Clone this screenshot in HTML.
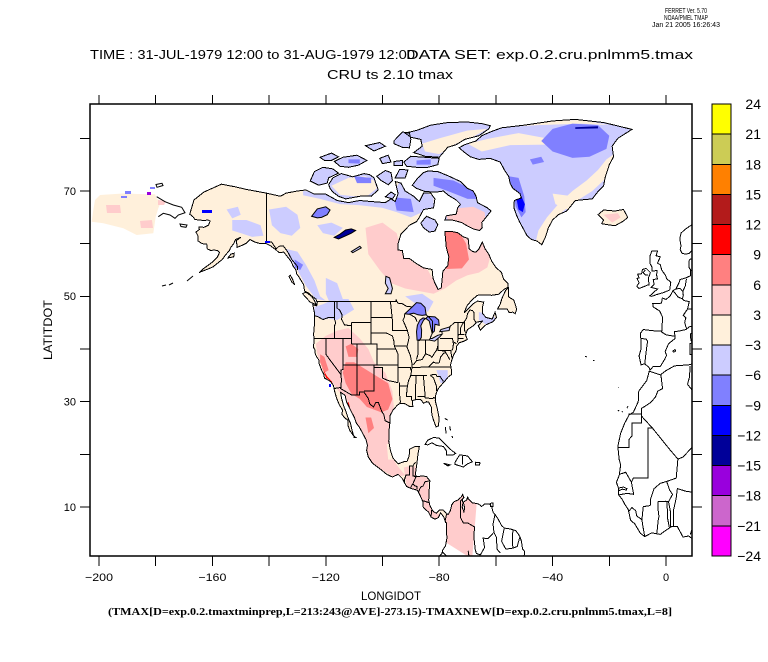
<!DOCTYPE html>
<html><head><meta charset="utf-8"><style>
html,body{margin:0;padding:0;background:#fff;}
svg{display:block;}
text{font-family:"Liberation Sans",sans-serif;fill:#000;}
</style></head><body>
<svg width="768" height="662" viewBox="0 0 768 662" xmlns="http://www.w3.org/2000/svg">
<rect x="0" y="0" width="768" height="662" fill="#fff"/>
<defs>
<clipPath id="fr"><rect x="91" y="105" width="601" height="451"/></clipPath>
<polygon id="main" vector-effect="non-scaling-stroke" points="-168,65.6 -166.5,68.3 -163,69.8 -156.8,71.3 -152,70.8 -148,70.3 -141,69.6 -136,69 -134,69.6 -130,70 -127,70.2 -124,69.4 -120,69.4 -116,68.2 -112,67.8 -108,68.2 -104,68 -99,67.8 -97,68.5 -95.5,68 -94.5,69.5 -95.5,71.8 -93.5,71.5 -92,70 -89,69 -87,68 -85.5,69.6 -83,69.6 -81.5,68.5 -82,66.8 -85.5,66.5 -87,65 -88,64.2 -90.5,63.5 -93.5,61.8 -94.5,60 -94.6,58.8 -93,58.7 -92.5,57.2 -90.5,57.2 -88,56.2 -85.5,55.4 -82.5,55.1 -82.2,53.5 -81.5,52.5 -80.4,51.3 -79.3,51.6 -79,53 -78.7,54.8 -77,55.8 -76.6,57.5 -77.5,59.3 -77.7,60.5 -78,62.3 -75.5,62.3 -73.5,62.1 -71.5,61.3 -69.8,61 -69.4,59 -68.2,58.5 -67,58.4 -66,59 -64.8,60.3 -63.8,59 -62.5,58 -61.5,56.7 -60,55.5 -58,54.5 -57.3,53.3 -55.8,52.5 -55.7,51.7 -57,51.4 -59,50.4 -61.5,50.2 -64.2,50.3 -66.5,50.2 -68.5,49.3 -70.2,48.2 -71.2,46.9 -70,47.5 -68,48.6 -66.5,49.1 -64.3,48.9 -64.8,47.8 -64.8,46.8 -63.5,46 -61.3,45.7 -60.3,47 -59.8,46 -61,45.2 -63.5,44.6 -65.5,43.6 -66.2,44.4 -64.8,45.3 -66.8,45.1 -68,44.4 -70,43.7 -70.7,42.7 -70.1,41.8 -71.2,41.5 -72.9,41.2 -73.8,40.6 -74,39.7 -74.9,38.9 -75.5,38 -76,37 -75.6,35.8 -75.6,35.2 -76.8,34.7 -78,33.9 -79.2,33.2 -80.3,32.5 -81.2,31.4 -81.4,30.2 -80.6,28.5 -80,26.8 -80.3,25.4 -81.1,25.2 -81.8,26.2 -82.6,27.5 -82.7,28.9 -83.7,29.9 -84.5,30 -85.5,29.7 -86.5,30.4 -88.2,30.4 -89.5,30.2 -89.3,29.1 -90.5,29.1 -92,29.6 -93.8,29.7 -94.8,29.3 -96.3,28.4 -97.3,27.4 -97.4,26 -97.7,24.5 -97.8,22.5 -97.2,20.7 -96.3,19.3 -95.2,18.6 -94.5,18.2 -92.5,18.6 -91.3,18.7 -90.6,19.7 -90.4,21 -88.5,21.5 -87,21.5 -87.5,20 -87.8,18.5 -88.2,17 -88.5,15.9 -87.5,15.8 -86,15.9 -84.5,15.8 -83.3,15 -83.5,13.5 -83.7,11.3 -83.3,10.3 -82.2,9.2 -81,8.8 -79.9,9.4 -78.5,9.4 -77.4,8.7 -77.9,7.3 -78.4,8.1 -79.5,8.9 -80.3,8 -81.5,7.7 -82.9,8.1 -83.7,9 -85.6,9.9 -85.8,11.1 -87,12.5 -87.7,13.2 -89.8,13.5 -91.5,13.9 -93,15.4 -94.5,16.2 -96.5,15.7 -98.5,16.2 -101,17.3 -103.5,18.3 -105,19.5 -105.6,20.8 -105.3,21.7 -105.8,22.8 -106.8,23.8 -108.2,25.2 -109.3,26 -109.9,27 -110.8,27.9 -111.8,29 -112.7,30 -113.2,31.2 -114.8,31.8 -114.5,30.8 -113.7,29.2 -112.8,28 -112.2,27 -111.3,25.9 -110.7,24.5 -110,23.2 -109.4,23.2 -110.3,23.6 -111.5,24.5 -112.2,25.5 -112.2,26.5 -113.3,26.9 -114.3,27.6 -114.1,28.4 -115.3,29.5 -116.2,30.7 -116.8,31.8 -117.1,32.5 -117.3,33.1 -118.3,33.8 -118.8,34 -120.5,34.5 -120.7,35.2 -121.5,36 -121.9,36.6 -122.4,37.3 -122.5,38 -123,38.3 -123.7,39 -123.8,39.8 -124.4,40.4 -124.1,41.5 -124.3,42.8 -124.1,44 -123.9,46 -124,46.9 -124.6,48.4 -123.2,48.2 -123,48.8 -123.5,49.5 -124.8,50 -126,50.6 -127.5,51 -127.8,52.2 -128.5,52.8 -129.5,53.7 -130.3,54.3 -130.5,55 -131.5,55.7 -132.2,56.6 -133.5,57.5 -134.8,58.4 -136.5,58.3 -137.5,58.8 -139.5,59.6 -141,60 -143,60 -145,60.3 -146.8,60.8 -148,60.1 -149.5,59.7 -151.3,59.3 -151.5,60.6 -150,61.2 -151.8,60.8 -152.5,60 -153.5,59.3 -154,58.7 -155.3,57.9 -156.5,57 -158.4,56.2 -159.8,55.6 -161.5,55.2 -163,54.9 -164.7,54.5 -163.3,55.2 -161.5,55.9 -159.8,56.6 -158.3,57.4 -157.5,58.3 -158.2,58.7 -159.5,58.8 -160.5,58.7 -161.8,59 -162,59.9 -163.6,60 -165,60.5 -165,61.4 -165.8,62.2 -164.6,62.7 -164.8,63.2 -163,63.1 -161.4,63.5 -160.8,64.3 -161.6,64.5 -163,64.4 -164.9,64.5 -166.2,64.6 -166.8,65.1"/>
<polygon id="vanc" vector-effect="non-scaling-stroke" points="-123.4,48.4 -125.5,48.9 -128.2,50.5 -127,50.8 -125,50 -124,49.2"/>
<polygon id="qch" vector-effect="non-scaling-stroke" points="-132.5,54 -131.7,53.2 -131,52.2 -132,52.7 -133,53.8"/>
<polygon id="kod" vector-effect="non-scaling-stroke" points="-154.5,57.3 -152.5,57.5 -152.3,58.2 -153.5,58"/>
<polygon id="newf" vector-effect="non-scaling-stroke" points="-59.4,47.6 -58.5,48.5 -57.8,49.7 -56.5,51.2 -55.5,51.6 -55.5,49.9 -53.7,49.3 -53,48.2 -52.7,47.5 -53.2,46.7 -54,47 -55.3,46.9 -56,47.6 -57.5,47.6"/>
<polygon id="ice" vector-effect="non-scaling-stroke" points="-24,65.5 -22,66.4 -18,66.2 -15,66.5 -13.5,65 -15,64.3 -18,63.4 -20.5,63.6 -22.7,63.8 -22,64.5"/>
<polygon id="grn" vector-effect="non-scaling-stroke" points="-73,78.2 -71,78.8 -67,79.5 -65,80.5 -62,81.2 -58,82 -50,82.5 -40,83.3 -32,83.6 -22,83 -12,81.7 -17,80 -19,78.5 -18.5,76.5 -20,75 -21.5,72.5 -22,71 -24,69.9 -26,68.5 -32,68.2 -35,66.2 -38,65.5 -40,64.5 -41.5,63 -42.5,61.3 -43.8,59.8 -45.5,60.5 -47.5,60.8 -49,61.5 -50.5,63 -51.7,64.2 -52.8,65.5 -53.7,66.9 -53.5,68.2 -51,68.7 -51.5,69.5 -54,70.5 -55,71.5 -55.5,72.8 -57,74 -58.5,75.5 -62,76.2 -66,76 -69,76.5 -71,77.3"/>
<polygon id="banks" vector-effect="non-scaling-stroke" points="-125.5,71.9 -124,73.7 -121,74.5 -117.5,74.2 -115.5,73.4 -119,72.5 -119.5,71.5 -122.5,71.1"/>
<polygon id="vict" vector-effect="non-scaling-stroke" points="-119,71.2 -117.5,72.5 -114.5,73.3 -110.5,72.7 -106.5,73.3 -104.5,73.1 -103,72.5 -101.5,70.2 -104,69 -107,69.1 -110,68.8 -113,68.5 -115.5,69 -117.5,69.8 -118.5,70.5"/>
<polygon id="melv" vector-effect="non-scaling-stroke" points="-117,75.6 -114,76.4 -109,76.8 -105.5,75.8 -108.5,74.9 -112,74.5 -115,74.7"/>
<polygon id="ppat" vector-effect="non-scaling-stroke" points="-122,76.4 -118,77.2 -115.5,76.5 -118,75.8 -120.5,75.8"/>
<polygon id="bath" vector-effect="non-scaling-stroke" points="-101,76.2 -98,76.8 -97,75.5 -100,75.2"/>
<polygon id="corn" vector-effect="non-scaling-stroke" points="-96,75.6 -93,75.8 -93,74.8 -96,74.8"/>
<polygon id="pwal" vector-effect="non-scaling-stroke" points="-102,72.8 -99,73.9 -97,73.5 -96.5,72 -98,71.2 -100.5,72"/>
<polygon id="some" vector-effect="non-scaling-stroke" points="-95.5,72.5 -94,74.1 -91,74 -92,72.5"/>
<polygon id="kingw" vector-effect="non-scaling-stroke" points="-99,68.9 -97,69.8 -95.5,69.3 -96.5,68.5"/>
<polygon id="devon" vector-effect="non-scaling-stroke" points="-92.5,75.5 -90,76.6 -85,76.4 -80,76.2 -80.5,75 -84,74.5 -88,74.5 -91.5,74.7"/>
<polygon id="elle" vector-effect="non-scaling-stroke" points="-80,76.4 -77,78.3 -74,78.8 -71,79.8 -66,80.5 -62.5,81.8 -62,82.4 -65,82.8 -70,83.1 -77,83 -83,82.5 -88,81.5 -92,81 -90,80.2 -86.5,79.8 -86,78.5 -89,77.3 -85,76.6"/>
<polygon id="axel" vector-effect="non-scaling-stroke" points="-96,79.5 -93,81.2 -90.5,81 -90,79.8 -90.5,78.2 -93,78.3 -96,79"/>
<polygon id="ring" vector-effect="non-scaling-stroke" points="-106,78.6 -101,79.2 -99,78.5 -103,77.6"/>
<polygon id="baff" vector-effect="non-scaling-stroke" points="-80.5,73.7 -76.5,72.8 -72.5,71.8 -70,70.5 -68,70 -67,69 -66.5,67.8 -63,66.8 -61.7,66.2 -63.5,65 -65,64 -64.8,63 -65.8,62.5 -68,62.8 -70.5,63.5 -72,64 -74,64.3 -75.5,64.5 -78,64.5 -77.5,65.3 -74,65.6 -73.5,66.8 -72.5,67.5 -74,68.3 -76.8,69.2 -78.5,70 -81,69.8 -85,69.9 -88,70.5 -89.5,71.1 -87.5,72.5 -85.5,73.5 -84,73.8"/>
<polygon id="south" vector-effect="non-scaling-stroke" points="-86.5,63.9 -84.5,65.2 -81.5,64.5 -80.5,63.6 -81.5,62.4 -83.5,62.2 -85.5,63"/>
<polygon id="safill" points="-77.4,8.7 -76.8,8.6 -76,9.4 -75.6,10.4 -74.8,11 -73.5,11.3 -72.2,11.9 -71.7,12.4 -71.3,11.8 -71.9,11.5 -71.6,10.8 -71.9,10 -71.3,9.1 -71,9.8 -71.5,10.9 -70.2,11.4 -70,12 -69.7,11.5 -68.3,10.8 -66.8,10.6 -68.3,0.6 -69.8,0.6 -77.4,3.2 -77.3,4 -77.4,5.7 -77.5,7 -77.9,7.3"/>
</defs>

<!-- title block -->
<text x="686" y="13" font-size="7" text-anchor="middle" textLength="42" lengthAdjust="spacingAndGlyphs">FERRET Ver. 5.70</text>
<text x="686" y="20" font-size="7" text-anchor="middle" textLength="44" lengthAdjust="spacingAndGlyphs">NOAA/PMEL TMAP</text>
<text x="686" y="27" font-size="7" text-anchor="middle" textLength="68" lengthAdjust="spacingAndGlyphs">Jan 21 2005 16:26:43</text>
<text x="90" y="59" font-size="13" textLength="325" lengthAdjust="spacingAndGlyphs">TIME : 31-JUL-1979 12:00 to 31-AUG-1979 12:00</text>
<text x="406" y="59" font-size="13" textLength="287" lengthAdjust="spacingAndGlyphs">DATA SET: exp.0.2.cru.pnlmm5.tmax</text>
<text x="390" y="79" font-size="13" text-anchor="middle" textLength="126" lengthAdjust="spacingAndGlyphs">CRU ts 2.10 tmax</text>

<g clip-path="url(#fr)">
 <!-- Chukotka (pixel space) -->
 <polygon points="100,195 126.7,193.3 136.7,194 155,194.3 156.7,198.3 161,201.7 158.3,208.3 155.7,216.7 153.3,233.3 136.7,235 123.3,228.3 103.3,223.3 91.7,221.7 93.3,210 95,200" fill="#FFF0DB"/>
 <polygon points="106,205 120,205 121,213 107,213" fill="#FFCCCC"/>
 <polygon points="140,221 152,220 153,228 141,228" fill="#FFCCCC"/>
 <polygon points="158,200 166,201 164,205 158,205" fill="#FFCCCC"/>
 <rect x="125" y="191" width="6" height="3" fill="#8080FF"/>
 <rect x="121" y="196" width="6" height="2" fill="#8080FF"/>
 <rect x="147" y="192" width="4" height="3" fill="#9900DD"/>
 <rect x="150" y="187" width="5" height="2" fill="#8080FF"/>
 <g fill="none" stroke="#000" stroke-width="1">
  <polyline points="156.7,196.7 165,201.7 173.3,205 181.7,207.3 185,212.7 178.3,215 175,218.3 170,215 163.3,213.3 158.3,216.7"/>
  <polygon points="180,224 187,225 186,227.3 181,226.5"/>
  <polygon points="156,184.5 162,183.3 163,185.5 157,187.3"/>
  <polyline points="187,281 193,276"/>
  <polyline points="162,286 166,285"/>
  <polyline points="169,285 173,283"/>
 </g>

 <g transform="matrix(2.835,0,0,-5.267,666,559.7)">
  <clipPath id="landclip">
   <use href="#main"/><use href="#vanc"/><use href="#qch"/><use href="#kod"/><use href="#newf"/><use href="#ice"/><use href="#grn"/>
   <use href="#banks"/><use href="#vict"/><use href="#melv"/><use href="#ppat"/><use href="#bath"/><use href="#corn"/><use href="#pwal"/><use href="#some"/><use href="#kingw"/><use href="#devon"/><use href="#elle"/><use href="#axel"/><use href="#ring"/><use href="#baff"/><use href="#south"/>
  </clipPath>
  <g fill="#FFF0DB">
   <use href="#main"/><use href="#vanc"/><use href="#qch"/><use href="#kod"/><use href="#newf"/><use href="#ice"/>
  </g>
  <g fill="#CCCCFF">
   <use href="#grn"/><use href="#banks"/><use href="#vict"/><use href="#melv"/><use href="#ppat"/><use href="#bath"/><use href="#corn"/><use href="#pwal"/><use href="#some"/><use href="#kingw"/><use href="#devon"/><use href="#elle"/><use href="#axel"/><use href="#ring"/><use href="#baff"/><use href="#south"/>
  </g>
  <use href="#safill" fill="#FFCCCC"/>
  <g clip-path="url(#landclip)">
   <g fill="#CCCCFF">
    <polygon points="-155,66.5 -151,67 -150,65.5 -153,64.8"/>
    <polygon points="-153,64.5 -148,64.5 -143,63.5 -142,61.5 -146,61.3 -150,62 -153,62.5"/>
    <polygon points="-140,66.5 -134,67 -130,65.5 -129,63 -132,61.5 -136,62 -139,63.5"/>
    <polygon points="-134,59 -130,58.5 -127,56 -124,53 -122,50 -120,49.2 -123.5,49.5 -127,52 -130,55 -133,57.5"/>
    <polygon points="-120,53.5 -116,52.5 -114,49.5 -113,47 -116,46 -118,48 -120,50.5"/>
    <polygon points="-124,48 -121,48.5 -117,49.5 -112,49.5 -110,47.5 -113,46.5 -116,45.5 -119,45.8 -121,45.5 -124,46.5"/>
    <polygon points="-128,70 -120,69.6 -114,68.3 -108,68.5 -100,68.2 -96,69.5 -94,71.8 -92,70 -88,68.5 -85,69.8 -82,69 -82,66.5 -86,66 -90,65 -95,66 -100,66.8 -108,67.3 -115,67.5 -122,68.5 -128,69.2"/>
    <polygon points="-123,63.5 -118,64 -114,63 -117,61.5 -121,62"/>
    <polygon points="-92,50 -86,50.5 -82,49 -84,47 -88,48.5"/>
    <polygon points="-81,36 -77,36 -77,33.8 -79.5,33.5"/>
    <polygon points="-66,47 -61,46.5 -60,45.5 -63,44.5 -66,45.5"/>
   </g>
   <g fill="#8080FF">
    <polygon points="-96,68.8 -90,68.5 -89,66 -95,66.3"/>
    <polygon points="-131,57 -128,56 -129,55 -131,55.5"/>
   </g>
   <g fill="#FFCCCC">
    <polygon points="-106,63 -100,64 -95,62 -93,58 -88,56 -84,55 -82,53 -80,51 -79.5,53 -78.8,56 -78,60 -77.5,62.5 -70,62 -65,60.5 -62,57.5 -63,55.5 -66,54.5 -70,54 -74,53 -78,51.5 -82,50.5 -87,51 -92,51.5 -97,52.5 -101,55 -105,58"/>
    <polygon points="-123.5,41 -120,42.5 -116,43.5 -112,44 -108,42 -105,40 -103,37.5 -99,35.5 -96.5,32 -96,29 -97.3,26 -97.6,23 -97,20 -95,18 -92,16 -96,15.7 -100,17 -104,18.5 -105.5,21 -107,24 -110,27 -113,30.5 -115.5,32 -118,34 -121,36 -123,39"/>
    <polygon points="-92.5,17.5 -88.5,18 -88,16 -84,15.5 -83.5,11 -82,9 -79,8.5 -80,7.5 -84,8.5 -86,11 -88,13 -91.5,14"/>
    <polygon points="-78,66.5 -68,67 -64,66 -63.5,64 -66,62.5 -72,63.5 -77,64.5"/>
    <polygon points="-22,65.5 -17,65.8 -16,65 -19,64"/>
   </g>
   <g fill="#FFF0DB">
    <polygon points="-92,20 -88,21.6 -86.5,21 -87.5,18 -90,17.5 -92,18.5"/>
    <polygon points="-98.5,22 -97,22 -96,19 -98,19"/>
    <polygon points="-118,71 -112,72.5 -106,72.8 -103,72 -102,70.5 -105,69.2 -110,69 -115,69.3"/>
    <polygon points="-80,77 -74,79 -68,80.3 -63,81.8 -70,81.5 -80,80 -86,79 -85,77.5"/>
    <polygon points="-70,79 -62,80 -52,81 -42,80 -30,80.5 -25,80 -30,79 -42,78.8 -55,78.7 -65,77.5"/>
    <polygon points="-60,82 -45,83.2 -30,83.5 -20,82.5 -30,82.8 -45,82.5"/>
    <polygon points="-21,76 -17,77.5 -19,74 -22,72 -26,70 -31,68.3 -36,66.3 -40,64.3 -42,62 -43.5,59.5 -46,60.3 -45,62.5 -42,65 -38,67.5 -33,70 -28,72 -24,74"/>
    <polygon points="-40,69.5 -33,69 -29,67.5 -34,66.3 -39,67.5"/>
   </g>
   <g fill="#8080FF">
    <polygon points="-110,72.8 -104,72.5 -104,71.5 -109,71.5"/>
    <polygon points="-82,72.5 -75,72 -68,70.2 -66,68.5 -70,68.5 -77,70 -82,71"/>
    <polygon points="-88,75.8 -83,76 -83,75 -88,75"/>
    <polygon points="-112,76 -108,76 -108,75.2 -112,75.3"/>
    <polygon points="-44,79.5 -40,81.8 -33,82.8 -24,82.5 -20,80.5 -21,78 -27,76.5 -33,76.3 -40,77.5"/>
    <polygon points="-55.5,72.8 -52,72.5 -50,69 -49.5,66 -51,65 -53,67 -54,70"/>
    <polygon points="-48,76 -44,76.5 -43,75.5 -47,75"/>
   </g>
   <polygon points="-53,69.2 -51,69 -49.8,67.5 -50.5,66 -52,66.5" fill="#0000FF"/>
   <polygon points="-32,82.1 -24,82.3 -24,81.9 -32,81.8" fill="#000099"/>
   <g fill="#FF8080">
    <polygon points="-78.5,62.5 -73,62.3 -70.5,60 -69.5,57 -72,55.3 -77.5,55.2 -77.8,58"/>
    <polygon points="-113,37.5 -110,37.5 -107,36.5 -104,35.5 -101,34.5 -98,33.5 -96.5,30.5 -98,28.5 -100.5,28 -103,28.5 -105.5,29 -108,30.5 -111,31.5 -113,33.5 -114,35.5"/>
    <polygon points="-113,40.5 -111,41 -108.5,40 -109,38.5 -112,38.5"/>
    <polygon points="-106,27 -104,27 -103,25 -105,24"/>
    <polygon points="-122,39 -120.5,38.5 -119,36 -120.5,35.5 -122,37.5"/>
   </g>
   <g fill="#FF0000">
    <polygon points="-121,36.2 -120,34.6 -118.5,34 -117.5,33.2 -117.8,33.8 -119.5,34.8 -121.3,36.4"/>
    <polygon points="-112.5,29.5 -112,28.5 -111.5,29 -112,30"/>
   </g>
  </g>
  <g stroke="#000" stroke-width="1">
   <polygon vector-effect="non-scaling-stroke" fill="#8080FF" points="-125,65.2 -123,66.6 -120,67 -118.5,66.4 -119.5,65.5 -121.5,65 -123,64.9"/>
   <polygon vector-effect="non-scaling-stroke" fill="#000099" points="-117,61.2 -115,61.8 -113,62.6 -111,62.8 -109.5,62.5 -111,62 -113,61.5 -115.5,60.9"/>
   <polygon vector-effect="non-scaling-stroke" fill="#CCCCFF" points="-99,50.5 -97,50.5 -96.5,51.5 -97.5,53.5 -98.8,53.8 -99,52.5 -98,51.5"/>
   <polygon vector-effect="non-scaling-stroke" fill="#CCCCFF" points="-111,58.5 -108,59.5 -107.5,59.2 -110.5,58.3"/>
   <polygon vector-effect="non-scaling-stroke" fill="#8080FF" points="-92.1,46.7 -89.5,48 -88,48.8 -86.5,48.7 -85,47.9 -84.6,46.5 -86,46.4 -87.5,46.5 -89,46.8 -90.8,46.6"/>
   <polygon vector-effect="non-scaling-stroke" fill="#8080FF" points="-87.8,41.7 -87,41.6 -86.3,42.2 -86.2,43.6 -86.5,44.4 -85.5,45.5 -84.8,45.8 -85.7,45.9 -86.8,45.5 -87.7,44.5 -88,43.3"/>
   <polygon vector-effect="non-scaling-stroke" fill="#8080FF" points="-84.7,45.8 -83.5,45.3 -82.5,43 -81.7,43.4 -81.5,44.7 -80,44.5 -80.2,45.5 -81.5,46.1 -84,46.2"/>
   <polygon vector-effect="non-scaling-stroke" fill="#CCCCFF" points="-83.5,41.7 -81.6,41.5 -79.8,42.3 -79,42.8 -80.5,42.6 -82.5,42 -83.2,42"/>
   <polygon vector-effect="non-scaling-stroke" fill="#CCCCFF" points="-79.8,43.3 -76.5,43.5 -76.2,44.2 -77.5,44 -79.4,43.7"/>
  </g>
  <g fill="none" stroke="#000" stroke-width="1" shape-rendering="crispEdges">
   <use href="#main"/><use href="#vanc"/><use href="#qch"/><use href="#kod"/><use href="#newf"/><use href="#ice"/><use href="#grn"/>
   <use href="#banks"/><use href="#vict"/><use href="#melv"/><use href="#ppat"/><use href="#bath"/><use href="#corn"/><use href="#pwal"/><use href="#some"/><use href="#kingw"/><use href="#devon"/><use href="#elle"/><use href="#axel"/><use href="#ring"/><use href="#baff"/><use href="#south"/>
  </g>
  <g fill="none" stroke="#000" stroke-width="1" shape-rendering="crispEdges">
   <polygon vector-effect="non-scaling-stroke" points="-85,21.9 -84,22.7 -82,23.2 -80,23.1 -77.5,21.7 -75.5,20.7 -74.2,20.2 -75,19.9 -77.5,19.9 -77.5,20.7 -78.5,21.5 -81,21.7 -82.5,22.2 -84,21.8"/>
   <polygon vector-effect="non-scaling-stroke" points="-74.5,18.4 -72.8,19.9 -70,19.7 -68.3,18.6 -70,18.2 -71.5,17.6 -74.4,18.1"/>
   <polyline vector-effect="non-scaling-stroke" points="-71.7,19.7 -71.7,18.1"/>
   <polygon vector-effect="non-scaling-stroke" points="-78.4,18.3 -76.2,18 -76.9,17.8 -78.2,18.2"/>
   <polygon vector-effect="non-scaling-stroke" points="-67.2,18.5 -65.6,18.4 -65.8,18 -67.2,18"/>
   <polyline vector-effect="non-scaling-stroke" points="-78,26.8 -77,26.5"/>
   <polyline vector-effect="non-scaling-stroke" points="-77.8,25.2 -77.6,24"/>
   <polyline vector-effect="non-scaling-stroke" points="-76.3,25.3 -76,24.5"/>
   <polyline vector-effect="non-scaling-stroke" points="-75.5,23.5 -75.2,23.1"/>
   <polygon vector-effect="non-scaling-stroke" points="-61.9,10.7 -61,10.8 -61,10.1 -61.9,10.1"/>
   <polyline vector-effect="non-scaling-stroke" points="-80,0 -80,0.6 -79,1.2 -78.8,1.8 -77.8,2.6 -77.3,4 -77.4,5.7 -77.5,7 -77.9,7.3"/>
   <polyline vector-effect="non-scaling-stroke" points="-77.4,8.7 -76.8,8.6 -76,9.4 -75.6,10.4 -74.8,11 -73.5,11.3 -72.2,11.9 -71.7,12.4 -71.3,11.8 -71.9,11.5 -71.6,10.8 -71.9,10 -71.3,9.1 -71,9.8 -71.5,10.9 -70.2,11.4 -70,12 -69.7,11.5 -68.3,10.8 -66.2,10.6 -65,10.1 -64,10.6 -62.3,10.6 -61.5,10.1 -61,9 -60.3,8.6 -59.3,7.8 -58.5,7 -58,6.5 -57,6 -55.5,5.9 -54,5.7 -53,5.5 -52,4.8 -51.5,4.3 -51,3.5 -50.6,2 -50,1.7 -49.9,1 -50.3,0.5 -50,0"/>
   <polyline vector-effect="non-scaling-stroke" points="-71.3,11.8 -72.5,11.1 -72.5,8 -71.5,7 -70,7 -67.5,6.2 -67.8,4.5 -67.3,2 -66.9,1.2"/>
   <polyline vector-effect="non-scaling-stroke" points="-60.3,8.6 -61,6.8 -60.7,5.2 -62.8,4 -64.5,4.1 -64,2.3 -65.5,0.9 -66.9,1.2"/>
   <polyline vector-effect="non-scaling-stroke" points="-60.7,5.2 -59.8,4.2 -59.6,2 -58.5,1.3"/>
   <polyline vector-effect="non-scaling-stroke" points="-57.1,5.9 -58,3.5 -56.5,2 -54,2.2 -52.5,2.5 -51.6,4.2"/>
   <polyline vector-effect="non-scaling-stroke" points="-54,5.7 -54.2,3.8 -54,2.2"/>
   <polyline vector-effect="non-scaling-stroke" points="-69.8,1.7 -69.5,0.7 -70,0"/>
   <polyline vector-effect="non-scaling-stroke" points="-78.8,1.4 -77,0.5 -75.5,0"/>
   <polyline vector-effect="non-scaling-stroke" points="-92.2,14.5 -92.2,15.3 -91.7,16.1 -90.4,16.1 -90.4,17.8 -89.2,17.8 -89.1,18 -88.3,18.5"/>
   <polyline vector-effect="non-scaling-stroke" points="-89.2,17.8 -89.2,15.9 -88.2,15.7 -89.3,14.4 -90.1,13.7"/>
   <polyline vector-effect="non-scaling-stroke" points="-89.3,14.4 -88.5,14 -87.8,13.9 -87.8,13.4"/>
   <polyline vector-effect="non-scaling-stroke" points="-87.3,12.9 -86.5,13.8 -85.7,14 -85,14.8 -83.2,15"/>
   <polyline vector-effect="non-scaling-stroke" points="-85.7,11.2 -84,10.9 -83.7,10.9"/>
   <polyline vector-effect="non-scaling-stroke" points="-82.9,8.1 -82.6,9.6"/>
   <polyline vector-effect="non-scaling-stroke" points="-9,43 -8.9,42 -8.8,40 -9.5,38.7 -8.8,37 -7.5,37.2 -6,36.5 -5.6,36 -4.5,36.7 -2,36.7 -0.5,38 0.2,38.8 -0.3,39.5 0.9,41 3.2,42 3,43.3 4.5,43.4 7,43.7 8.5,44.3 9.5,44.2"/>
   <polyline vector-effect="non-scaling-stroke" points="-9,43 -8,43.7 -5,43.5 -3,43.4 -1.5,43.4 -1.2,46 -2.2,47.2 -4.5,48 -4.7,48.6 -1.6,48.7 -1.3,49.7 0,49.4 1.5,50.1 2.5,51.1 3.5,51.4 4.5,52.5 5,53.2 7,53.5 8.6,53.9 8.7,55 8.1,55.5 8.2,56.8 8.6,57.1 9.5,57.1"/>
   <polyline vector-effect="non-scaling-stroke" points="-8.9,42 -7,41.9 -6.5,41.5 -7,39.5 -7.5,37.2"/>
   <polyline vector-effect="non-scaling-stroke" points="-1.7,43.3 0,42.7 3.2,42.4"/>
   <polyline vector-effect="non-scaling-stroke" points="2.5,51.1 4.2,49.9 5.8,49.5 6.4,49.2 8.2,49 7.6,47.6 6.1,46.4 7,45.9 6.6,45.1 7,44.2 7.5,43.8"/>
   <polyline vector-effect="non-scaling-stroke" points="7.2,53.3 6.8,52 6,51 6.1,50.2 5.8,49.5"/>
   <polyline vector-effect="non-scaling-stroke" points="3.4,51.4 5,51.5 5.9,51"/>
   <polyline vector-effect="non-scaling-stroke" points="7.6,47.6 9.5,47.6"/>
   <polyline vector-effect="non-scaling-stroke" points="8.6,54.9 9.5,54.8"/>
   <polygon vector-effect="non-scaling-stroke" points="8.6,42.9 9.4,43 9.4,41.4 8.8,41.6"/>
   <polygon vector-effect="non-scaling-stroke" points="8.4,41 9.4,41.2 9.4,39 8.4,39"/>
   <polygon vector-effect="non-scaling-stroke" points="2.4,39.6 3.2,39.9 3.4,39.6 2.7,39.4"/>
   <polygon vector-effect="non-scaling-stroke" points="-5,50 -3.5,50.3 -1,50.7 1.3,51.2 1.7,52.7 0.3,53.3 -0.2,54 -1.5,55 -2,56 -3,56.3 -2,57.5 -3.5,57.7 -3,58.6 -5,58.6 -5.7,57.6 -5.6,56.2 -4.9,55.5 -5,54.8 -3.2,54.9 -3.3,54 -3,53.3 -4.5,53.2 -4.2,52.3 -5.2,51.7 -3,51.4 -5.7,50.1"/>
   <polygon vector-effect="non-scaling-stroke" points="-6,52.2 -6.2,53.5 -5.5,54.5 -7,55.3 -8.3,55.1 -8.6,54.3 -10,54.2 -9.5,53.5 -10.2,53.4 -9.5,52.6 -10.3,51.9 -9.5,51.5 -8,51.8 -6.3,52.2"/>
   <polyline vector-effect="non-scaling-stroke" points="-6.3,54.1 -7.3,54.1 -8,54.5 -7.3,55"/>
   <polyline vector-effect="non-scaling-stroke" points="9.5,58.9 8.3,58.2 7,58 5.6,58.2 5,58.9 5.3,59.6 5,60.5 5,61.3 5.3,62 6.5,62.6 8,63.2 9.5,63.7"/>
   <polyline vector-effect="non-scaling-stroke" points="9.5,37.2 8,37 3,36.8 0,35.9 -2,35.1 -5.9,35.8 -6.8,34 -9.6,32 -9.8,30 -11.5,28 -13,27.5 -14.5,26 -16,24 -17,21.5 -16.5,19 -16,18 -16.5,16 -17.5,14.7 -16.7,13.5 -16.7,12.3 -15.5,11.5 -14.5,10.5 -13.3,9.5 -12.5,7.5 -11,6.8 -9,5 -7.5,4.4 -5,5.1 -2,4.8 0,5.6 2,6.3 4,6.3 6,4.3 8,4.5 9.5,3.9"/>
   <polyline vector-effect="non-scaling-stroke" points="-1.8,35.1 -1.2,32.5 -2.9,32 -3.7,30.9 -5.5,29.8 -8.7,28.7 -8.7,27.3"/>
   <polyline vector-effect="non-scaling-stroke" points="8.5,36.8 8.3,34.7 7.6,33.3 9.5,32"/>
   <polyline vector-effect="non-scaling-stroke" points="-13.2,27.7 -8.7,27.7 -8.7,26 -12,26 -12,23.5 -13.1,22.8 -13,21.3 -17,21.3"/>
   <polyline vector-effect="non-scaling-stroke" points="-8.7,27.3 -4.8,25 -6.3,25 -6.3,15.5 -11.5,15.5 -12.2,14.7 -14.2,16.6 -16.5,16.2"/>
   <polyline vector-effect="non-scaling-stroke" points="-4.8,25 1.2,21 4.2,19.1 6,19.5 9.5,21.5"/>
   <polyline vector-effect="non-scaling-stroke" points="4.2,19.1 3.6,15.5 0.5,14.9 -2,14.5 -4.2,13.5 -5.5,11.4 -5.4,10.4"/>
   <polyline vector-effect="non-scaling-stroke" points="-12.2,14.7 -11.4,12.4 -13.7,12.6 -16.7,12.3"/>
   <polyline vector-effect="non-scaling-stroke" points="-16.8,13.6 -15,13.8 -13.8,13.5 -14,13.2 -15.3,13.4 -16.7,13.1"/>
   <polyline vector-effect="non-scaling-stroke" points="-13.3,9.1 -12,9.9 -10.7,9.3 -10.3,8.3 -8.5,7.6 -8.2,6.5 -7.5,4.4"/>
   <polyline vector-effect="non-scaling-stroke" points="-8.5,7.6 -8,10.1 -6.2,10.2 -5.4,10.4"/>
   <polyline vector-effect="non-scaling-stroke" points="-3.2,5.1 -2.8,7.3 -2.5,8.2 -2.8,9.6 -2.8,11 0,11.1 0.9,11 2.3,12.4 1.3,13.2 0.2,14.9"/>
   <polyline vector-effect="non-scaling-stroke" points="1.2,6.1 0.5,8 0.4,11"/>
   <polyline vector-effect="non-scaling-stroke" points="1.6,6.2 1.6,9 0.9,11"/>
   <polyline vector-effect="non-scaling-stroke" points="2.7,6.4 2.7,9.5 3.6,11.7 4,13.5 7,13 9.5,12.8"/>
   <polyline vector-effect="non-scaling-stroke" points="8.6,4.8 9.5,6.3"/>
   <polyline vector-effect="non-scaling-stroke" points="-28.5,38.6 -27.8,38.5"/>
   <polyline vector-effect="non-scaling-stroke" points="-25.7,37.8 -25.2,37.8"/>
   <polyline vector-effect="non-scaling-stroke" points="-17,28.2 -16.5,28.4"/>
   <polyline vector-effect="non-scaling-stroke" points="-15.6,28 -15.3,28.2"/>
   <polyline vector-effect="non-scaling-stroke" points="-13.8,28.8 -13.4,29.1"/>
   <polyline vector-effect="non-scaling-stroke" points="-17,32.7 -16.7,32.7"/>
   <polyline vector-effect="non-scaling-stroke" points="-141,69.6 -141,60.3 -139.1,60.3 -137.5,59 -136.5,59.5 -135,59.6 -133.5,58.5 -132,57 -130.5,56 -130,55.7 -130,55"/>
   <polyline vector-effect="non-scaling-stroke" points="-123.3,49 -95.2,49 -95.2,49.4 -94.6,48.7 -93,48.6 -91.5,48.1 -89.6,48"/>
   <polyline vector-effect="non-scaling-stroke" points="-84.5,46.5 -84.1,46.2 -83.5,46 -82.4,45.3 -82.4,43 -83.1,42.2 -83.1,42"/>
   <polyline vector-effect="non-scaling-stroke" points="-79,42.9 -79,43.3"/>
   <polyline vector-effect="non-scaling-stroke" points="-76.3,44.2 -74.7,45 -71.5,45 -71,45.3 -70.3,45.9 -70,46.7 -69.2,47.4 -68.3,47.3 -67.8,47 -67.8,45.7 -67.2,45.2 -67,44.8"/>
   <polyline vector-effect="non-scaling-stroke" points="-117.1,32.5 -114.7,32.7 -114.8,32.5 -111,31.3 -108.2,31.3 -108.2,31.8 -106.5,31.8 -105,30.6 -104.5,29.6 -103.2,29 -102.4,29.8 -101.4,29.8 -100.3,28.2 -99.5,27.5 -99.1,26.4 -97.2,25.9"/>
   <polyline vector-effect="non-scaling-stroke" points="-124,46.3 -123,46.2 -121,45.6 -119,46 -116.9,46"/>
   <polyline vector-effect="non-scaling-stroke" points="-117,49 -117,46 -116.9,45.6 -116.5,45 -117,44.3 -117,42"/>
   <polyline vector-effect="non-scaling-stroke" points="-124.2,42 -111,42"/>
   <polyline vector-effect="non-scaling-stroke" points="-116,49 -116,47.8 -115,47.3 -114.3,46.5 -114.4,45.6 -113.4,44.6 -112.3,44.5 -111,44.5"/>
   <polyline vector-effect="non-scaling-stroke" points="-111,45 -111,41"/>
   <polyline vector-effect="non-scaling-stroke" points="-111,45 -104,45"/>
   <polyline vector-effect="non-scaling-stroke" points="-104,49 -104,41"/>
   <polyline vector-effect="non-scaling-stroke" points="-111,41 -102,41 -102,37"/>
   <polyline vector-effect="non-scaling-stroke" points="-120,42 -120,39 -114.6,35.1"/>
   <polyline vector-effect="non-scaling-stroke" points="-114,42 -114,36.1 -114.7,36 -114.6,35.1 -114.5,34 -114.7,32.7"/>
   <polyline vector-effect="non-scaling-stroke" points="-114,37 -94.6,37"/>
   <polyline vector-effect="non-scaling-stroke" points="-109,41 -109,31.3"/>
   <polyline vector-effect="non-scaling-stroke" points="-103,37 -103,32 -106.6,32"/>
   <polyline vector-effect="non-scaling-stroke" points="-103,36.5 -100,36.5 -100,34.5 -98,34 -96,33.8 -94.5,33.6"/>
   <polyline vector-effect="non-scaling-stroke" points="-102,40 -95.3,40"/>
   <polyline vector-effect="non-scaling-stroke" points="-104,46 -96.6,46"/>
   <polyline vector-effect="non-scaling-stroke" points="-104,43 -98.5,43 -96.5,42.5"/>
   <polyline vector-effect="non-scaling-stroke" points="-97.2,49 -96.6,46 -96.5,45.3 -96.5,43.5 -91.2,43.5"/>
   <polyline vector-effect="non-scaling-stroke" points="-96.5,42.5 -96,41.5 -95.8,40.5 -95.3,40 -94.6,39.1 -94.6,36.5 -90.1,36.5 -90,36 -89.7,36"/>
   <polyline vector-effect="non-scaling-stroke" points="-95.8,40.6 -91.4,40.6"/>
   <polyline vector-effect="non-scaling-stroke" points="-92.1,46.7 -92.3,46 -92.8,45.5 -91.2,43.5 -90.6,42.2 -91.1,41 -91.4,40.4 -90.2,38.8 -89.5,37 -89.6,36.5 -90,35 -90.8,34 -91.2,33 -91.6,31 -89.7,31 -89.7,30.2"/>
   <polyline vector-effect="non-scaling-stroke" points="-94.5,36.5 -94.5,33.6"/>
   <polyline vector-effect="non-scaling-stroke" points="-94,33.6 -94,33 -91.2,33"/>
   <polyline vector-effect="non-scaling-stroke" points="-94,33 -94,31.5 -93.7,30 -93.8,29.7"/>
   <polyline vector-effect="non-scaling-stroke" points="-90.3,35 -84.3,35"/>
   <polyline vector-effect="non-scaling-stroke" points="-89.5,36.5 -81.7,36.6"/>
   <polyline vector-effect="non-scaling-stroke" points="-88.2,35 -88.4,30.4"/>
   <polyline vector-effect="non-scaling-stroke" points="-85.6,35 -85.1,32 -85,31"/>
   <polyline vector-effect="non-scaling-stroke" points="-87.6,31 -85,31 -84.9,30.7 -82.2,30.6 -82,30.8 -81.5,30.7"/>
   <polyline vector-effect="non-scaling-stroke" points="-83.1,35 -82,34.5 -81,33 -80.9,32"/>
   <polyline vector-effect="non-scaling-stroke" points="-83.1,35 -82,35.2 -81,35.1 -80.8,34.8 -79.7,34.8 -78.5,33.85"/>
   <polyline vector-effect="non-scaling-stroke" points="-83.7,36.6 -75.9,36.6"/>
   <polyline vector-effect="non-scaling-stroke" points="-83.7,36.6 -82,37.5 -81,37.3 -80,37.4 -79.5,38.5 -78.4,39.2 -77.7,39.3 -77.2,38.9 -76.3,38"/>
   <polyline vector-effect="non-scaling-stroke" points="-89.1,37 -88,37.8 -87,37.9 -86,38 -84.8,39.1 -83,38.7 -82.6,38.4 -81.8,39.1 -80.9,39.8 -80.5,40.6"/>
   <polyline vector-effect="non-scaling-stroke" points="-87.5,41.7 -87.5,39 -88,38"/>
   <polyline vector-effect="non-scaling-stroke" points="-84.8,41.7 -84.8,39.1"/>
   <polyline vector-effect="non-scaling-stroke" points="-87.5,41.75 -83.5,41.7"/>
   <polyline vector-effect="non-scaling-stroke" points="-90.4,46.6 -88.5,46 -87.8,45.2"/>
   <polyline vector-effect="non-scaling-stroke" points="-80.5,42 -80.5,39.7 -75.8,39.7"/>
   <polyline vector-effect="non-scaling-stroke" points="-79.8,42 -75.3,42 -75,41 -75.1,40.3 -75.5,39.7"/>
   <polyline vector-effect="non-scaling-stroke" points="-79.5,39.7 -78,39.6 -77.7,39.3"/>
   <polyline vector-effect="non-scaling-stroke" points="-73.3,45 -73.3,42.7 -73.5,41.2"/>
   <polyline vector-effect="non-scaling-stroke" points="-75.1,41.4 -73.9,41"/>
   <polyline vector-effect="non-scaling-stroke" points="-73.3,42.7 -71,42.8"/>
   <polyline vector-effect="non-scaling-stroke" points="-73.5,42 -71.4,42"/>
   <polyline vector-effect="non-scaling-stroke" points="-71.5,45 -72.5,44 -72.5,42.7"/>
   <polyline vector-effect="non-scaling-stroke" points="-71.1,45.3 -71,43.5 -70.7,43.1"/>
   <polyline vector-effect="non-scaling-stroke" points="-75.8,39.7 -75.7,38.5 -75.1,38.5"/>
  </g>
 </g>
 <rect x="202" y="210" width="10" height="3" fill="#0000FF"/>
 <rect x="265" y="241" width="5" height="2" fill="#0000FF"/>
 <rect x="329" y="384" width="2" height="3" fill="#0000FF"/>
</g>

<rect x="90" y="104" width="602" height="452" fill="none" stroke="#000" stroke-width="1.5"/>
<g stroke="#000" stroke-width="1" shape-rendering="crispEdges">
 <path d="M99 95V104M155.7 95V104M212.4 95V104M269.1 95V104M325.8 95V104M382.5 95V104M439.2 95V104M495.9 95V104M552.6 95V104M609.3 95V104M666 95V104"/>
 <path d="M99 556V566M155.7 556V566M212.4 556V566M269.1 556V566M325.8 556V566M382.5 556V566M439.2 556V566M495.9 556V566M552.6 556V566M609.3 556V566M666 556V566"/>
 <path d="M80 507H90M80 454.4H90M80 401.7H90M80 349H90M80 296.4H90M80 243.7H90M80 191H90M80 138.3H90"/>
 <path d="M692 507H702M692 454.4H702M692 401.7H702M692 349H702M692 296.4H702M692 243.7H702M692 191H702M692 138.3H702"/>
</g>
<g font-size="11" text-anchor="middle">
 <text x="99" y="581" textLength="28" lengthAdjust="spacingAndGlyphs">−200</text>
 <text x="212.4" y="581" textLength="28" lengthAdjust="spacingAndGlyphs">−160</text>
 <text x="325.8" y="581" textLength="28" lengthAdjust="spacingAndGlyphs">−120</text>
 <text x="439.2" y="581" textLength="21" lengthAdjust="spacingAndGlyphs">−80</text>
 <text x="552.6" y="581" textLength="21" lengthAdjust="spacingAndGlyphs">−40</text>
 <text x="666" y="581">0</text>
</g>
<g font-size="11" text-anchor="end">
 <text x="76" y="511">10</text>
 <text x="76" y="405.5">30</text>
 <text x="76" y="300">50</text>
 <text x="76" y="195">70</text>
</g>
<text x="391" y="600" font-size="12" text-anchor="middle" textLength="60" lengthAdjust="spacingAndGlyphs">LONGIDOT</text>
<text transform="translate(52,330) rotate(-90)" x="0" y="0" font-size="12" text-anchor="middle" textLength="60" lengthAdjust="spacingAndGlyphs">LATITDOT</text>
<text x="390" y="615" font-size="10.5" font-weight="bold" text-anchor="middle" textLength="564" lengthAdjust="spacingAndGlyphs" style="font-family:'Liberation Serif',serif">(TMAX[D=exp.0.2.tmaxtminprep,L=213:243@AVE]-273.15)-TMAXNEW[D=exp.0.2.cru.pnlmm5.tmax,L=8]</text>

<g stroke="none">
 <rect x="712" y="104" width="19" height="30.13" fill="#FFFF00"/>
 <rect x="712" y="134.13" width="19" height="30.13" fill="#CCCC55"/>
 <rect x="712" y="164.27" width="19" height="30.13" fill="#FF8000"/>
 <rect x="712" y="194.4" width="19" height="30.13" fill="#B31B1B"/>
 <rect x="712" y="224.53" width="19" height="30.13" fill="#FF0000"/>
 <rect x="712" y="254.67" width="19" height="30.13" fill="#FF8080"/>
 <rect x="712" y="284.8" width="19" height="30.13" fill="#FFCCCC"/>
 <rect x="712" y="314.93" width="19" height="30.13" fill="#FFF0DB"/>
 <rect x="712" y="345.07" width="19" height="30.13" fill="#CCCCFF"/>
 <rect x="712" y="375.2" width="19" height="30.13" fill="#8080FF"/>
 <rect x="712" y="405.33" width="19" height="30.13" fill="#0000FF"/>
 <rect x="712" y="435.47" width="19" height="30.13" fill="#000099"/>
 <rect x="712" y="465.6" width="19" height="30.13" fill="#9900DD"/>
 <rect x="712" y="495.73" width="19" height="30.13" fill="#CC66CC"/>
 <rect x="712" y="525.87" width="19" height="30.13" fill="#FF00FF"/>
</g>
<g stroke="#000" stroke-width="1" fill="none" shape-rendering="crispEdges">
 <rect x="712" y="104" width="19" height="452"/>
 <path d="M712 134.13H731M712 164.27H731M712 194.4H731M712 224.53H731M712 254.67H731M712 284.8H731M712 314.93H731M712 345.07H731M712 375.2H731M712 405.33H731M712 435.47H731M712 465.6H731M712 495.73H731M712 525.87H731"/>
</g>
<g font-size="14" text-anchor="end">
 <text x="761" y="109">24</text>
 <text x="761" y="139.1">21</text>
 <text x="761" y="169.3">18</text>
 <text x="761" y="199.4">15</text>
 <text x="761" y="229.5">12</text>
 <text x="761" y="259.7">9</text>
 <text x="761" y="289.8">6</text>
 <text x="761" y="319.9">3</text>
 <text x="761" y="350.1">−3</text>
 <text x="761" y="380.2">−6</text>
 <text x="761" y="410.3">−9</text>
 <text x="761" y="440.5">−12</text>
 <text x="761" y="470.6">−15</text>
 <text x="761" y="500.7">−18</text>
 <text x="761" y="530.9">−21</text>
 <text x="761" y="561">−24</text>
</g>
</svg>
</body></html>
